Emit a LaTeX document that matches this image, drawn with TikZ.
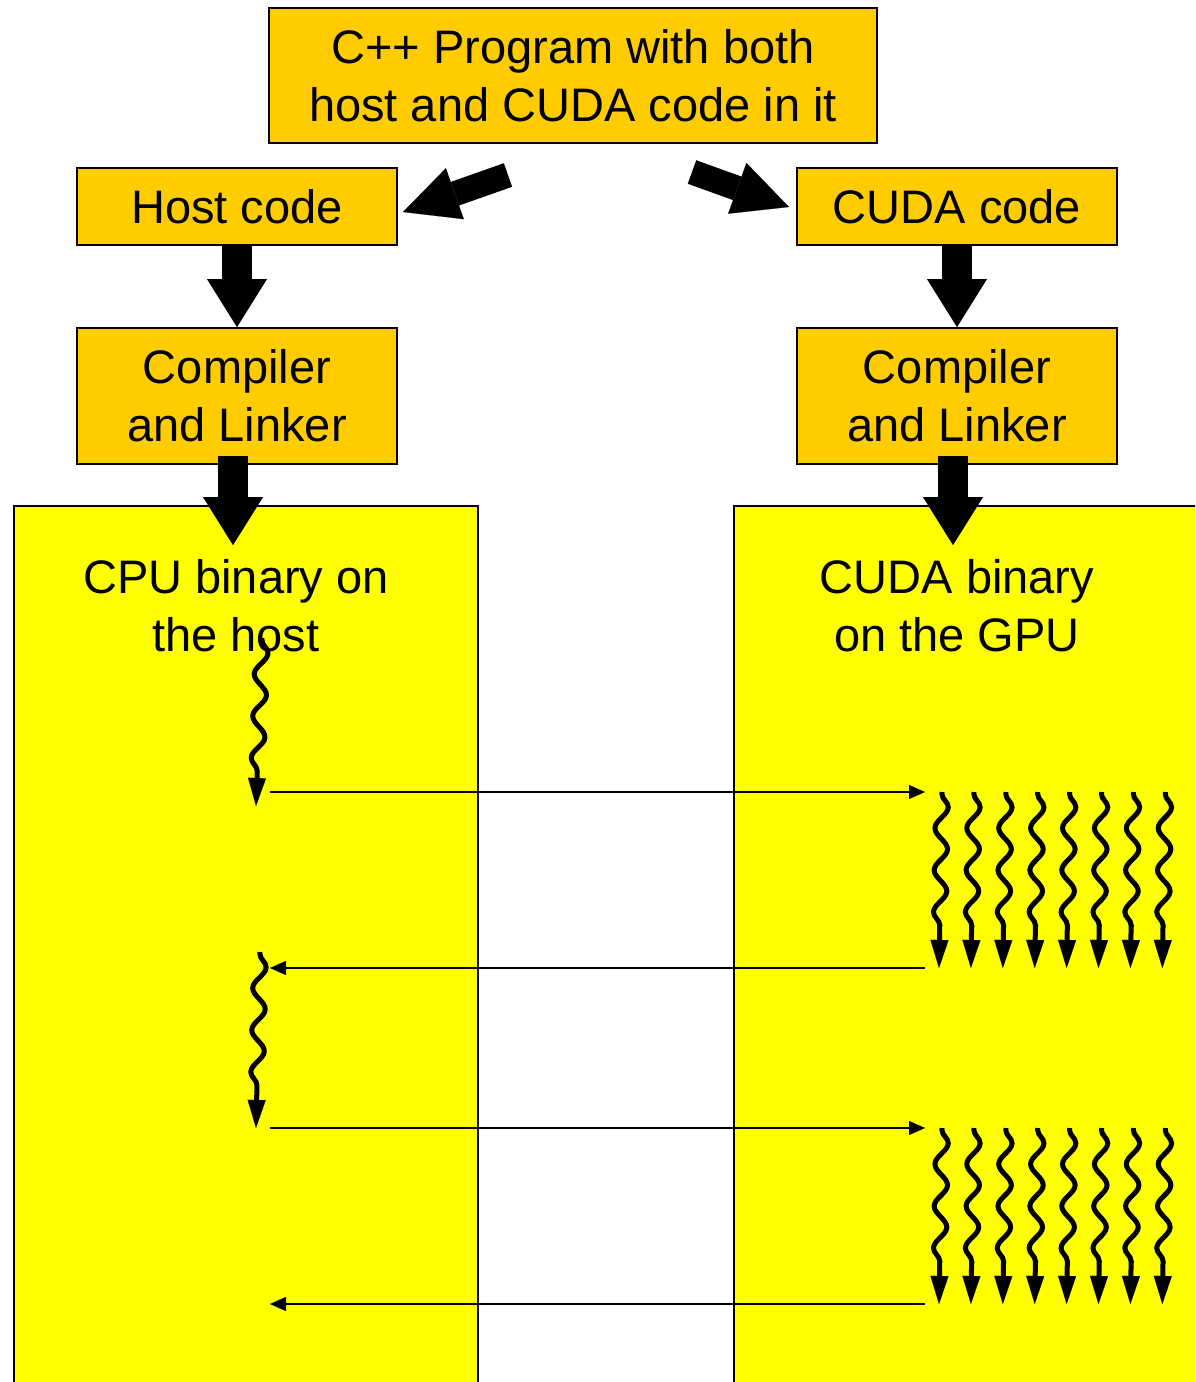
\documentclass[tikz,border=0pt]{standalone}
\usepackage{fontspec}
\setmainfont{Liberation Sans}
\usetikzlibrary{arrows.meta,decorations.pathmorphing,calc}
\definecolor{boxorange}{HTML}{FFCC00}
\definecolor{boxyellow}{HTML}{FFFF00}
\begin{document}
\begin{tikzpicture}[x=1pt,y=-1pt,
  every node/.style={font=\fontsize{47}{58}\selectfont, align=center, inner sep=0pt},
  stepbox/.style={draw=black, line width=2pt, fill=boxorange},
  bigbox/.style={draw=black, line width=2pt, fill=boxyellow, anchor=north west},
  blockarrow/.style={line width=30pt, -{Triangle[length=48pt 0 0, width=60pt 0 0, line width=0.1pt 0 0]}},
  diagarrow/.style={line width=25pt, -{Triangle[length=55pt 0 0, width=54pt 0 0, line width=0.1pt 0 0]}},
  thinarrow/.style={line width=2pt, -{Triangle[length=16pt 0 0, width=14pt 0 0, line width=0.1pt 0 0]}},
  wavy/.style={line width=5pt, -{Triangle[length=28pt 0 0, width=18pt 0 0, line width=0.1pt 0 0]},
    decorate, decoration={snake, amplitude=6.5pt, segment length=42pt, pre length=2pt, post length=22pt}}
]
\useasboundingbox (0,0) rectangle (1195,1382);
\clip (0,0) rectangle (1195,1382);

% big binary boxes
\node[bigbox, minimum width=464pt, minimum height=920pt] (cpubox) at (13,505) {};
\node[bigbox, minimum width=500pt, minimum height=920pt] (gpubox) at (733,505) {};

% orange boxes
\node[stepbox, minimum width=608pt, minimum height=135pt] (prog) at (573,75.5) {C++ Program with both\\host and CUDA code in it};
\node[stepbox, minimum width=320pt, minimum height=77pt] (host) at (237,206.5) {Host code};
\node[stepbox, minimum width=320pt, minimum height=77pt] (cuda) at (957,206.5) {CUDA code};
\node[stepbox, minimum width=320pt, minimum height=136pt] (compL) at (237,396) {Compiler\\and Linker};
\node[stepbox, minimum width=320pt, minimum height=136pt] (compR) at (957,396) {Compiler\\and Linker};

% binary labels
\node (cpulbl) at (236,606) {CPU binary on\\the host};
\node (gpulbl) at (957,606) {CUDA binary\\on the GPU};

% block arrows
\coordinate (dlTail) at (508,175);
\coordinate (dlTip) at (403,212);
\coordinate (drTail) at (692,172);
\coordinate (drTip) at (789,207);
\draw[diagarrow] (dlTail) -- (dlTip);
\draw[diagarrow] (drTail) -- (drTip);
\draw[blockarrow] (host.south) -- (compL.north);
\draw[blockarrow] (cuda.south) -- (compR.north);
\coordinate (cpuTip) at (233,545);
\coordinate (gpuTip) at (953,545);
\draw[blockarrow] ($(compL.south)+(-4,-9)$) -- (cpuTip);
\draw[blockarrow] ($(compR.south)+(-4,-9)$) -- (gpuTip);

% host threads
\coordinate (h1a) at (262,638);
\coordinate (h1b) at (256,806);
\coordinate (h2a) at (260,952);
\coordinate (h2b) at (256,1128);
\draw[wavy] (h1a) -- (h1b);
\draw[wavy] (h2a) -- (h2b);

% kernel launches and returns
\coordinate (l1s) at (270,792);
\coordinate (l1e) at (925,792);
\coordinate (r1s) at (925,968);
\coordinate (r1e) at (270,968);
\coordinate (l2s) at (270,1128);
\coordinate (l2e) at (925,1128);
\coordinate (r2s) at (925,1304);
\coordinate (r2e) at (270,1304);
\draw[thinarrow] (l1s) -- (l1e);
\draw[thinarrow] (r1s) -- (r1e);
\draw[thinarrow] (l2s) -- (l2e);
\draw[thinarrow] (r2s) -- (r2e);

% GPU threads
\foreach \i in {0,...,7} {
  \coordinate (ga\i) at ({942+31.9*\i},792);
  \coordinate (gb\i) at ({939+31.9*\i},968);
  \coordinate (gc\i) at ({942+31.9*\i},1128);
  \coordinate (gd\i) at ({939+31.9*\i},1304);
  \draw[wavy] (ga\i) -- (gb\i);
  \draw[wavy] (gc\i) -- (gd\i);
}
\end{tikzpicture}
\end{document}
